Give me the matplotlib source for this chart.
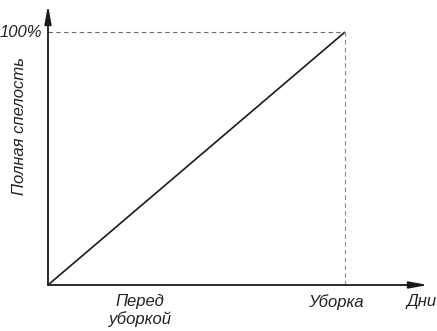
import matplotlib
matplotlib.use("Agg")
import matplotlib.pyplot as plt

days = [0.0, 1.0]
ripeness = [0.0, 100.0]
tick_positions = [0.31, 0.97]
tick_labels = ["Перед\nуборкой", "Уборка"]
y_tick_label = "100%"
y_label = "Полная спелость"
x_label = "Дни"

W, H = 437, 331
fig = plt.figure(figsize=(W / 100, H / 100), dpi=100)
# axes spans origin px (48,285) to tips (428,5)
x0, y0, x1, y1 = 48, 285, 428, 5
ax = fig.add_axes([x0 / W, 1 - y0 / H, (x1 - x0) / W, (y0 - y1) / H])
xmax = (x1 - x0) / 297.0
ymax = (y0 - y1) / 253.0 * 100
ax.set_xlim(0, xmax)
ax.set_ylim(0, ymax)
ax.axis("off")

font = dict(family=["Liberation Sans", "DejaVu Sans"], style="italic", size=12,
            color="#222222")

ax.plot(days, ripeness, color="#1a1a1a", lw=1.2, solid_capstyle="butt")
ax.plot([0, days[1]], [ripeness[1], ripeness[1]], color="#666666", lw=0.8,
        linestyle=(0, (4, 3)))
ax.plot([days[1], days[1]], [0, ripeness[1]], color="#888888", lw=0.8,
        linestyle=(0, (4, 3)))

arrow = dict(arrowstyle="-|>,head_length=1.1,head_width=0.2", color="#1a1a1a",
             lw=1.3, shrinkA=0, shrinkB=0)
ax.annotate("", xy=(xmax, 0), xytext=(0, 0), xycoords="data", arrowprops=arrow,
            annotation_clip=False)
ax.annotate("", xy=(0, ymax), xytext=(0, 0), xycoords="data", arrowprops=arrow,
            annotation_clip=False)

ax.text(-0.02, ripeness[1], y_tick_label, ha="right", va="center", **font)
for p, lab in zip(tick_positions, tick_labels):
    ax.text(p, -3.5, lab, ha="center", va="top", linespacing=1.15, **font)
ax.text(xmax - 0.02, -3.5, x_label, ha="center", va="top", **font)
fig.text(20 / W, 1 - 126 / H, y_label, rotation=90, ha="center", va="center", **font)

fig.savefig("out.png", dpi=100)
